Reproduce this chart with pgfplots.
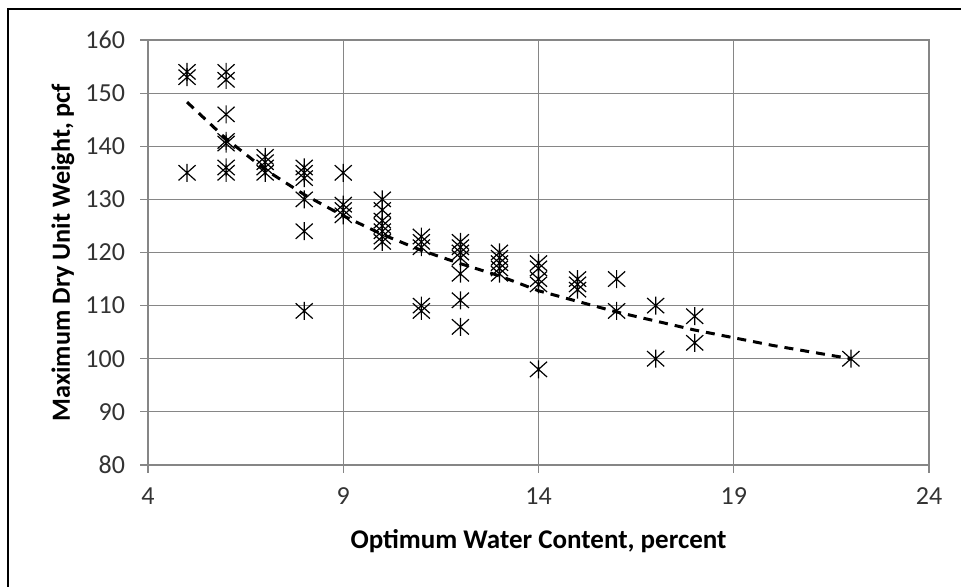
\documentclass[border=0pt]{standalone}
\usepackage{pgfplots}
\pgfplotsset{compat=1.18}
\usepackage{fontspec}
\setmainfont{Carlito}
\pgfdeclareplotmark{xstar}{%
  \pgfpathmoveto{\pgfqpoint{0pt}{\pgfplotmarksize}}%
  \pgfpathlineto{\pgfqpoint{0pt}{-\pgfplotmarksize}}%
  \pgfpathmoveto{\pgfqpoint{-0.95\pgfplotmarksize}{0.85\pgfplotmarksize}}%
  \pgfpathlineto{\pgfqpoint{0.95\pgfplotmarksize}{-0.85\pgfplotmarksize}}%
  \pgfpathmoveto{\pgfqpoint{-0.95\pgfplotmarksize}{-0.85\pgfplotmarksize}}%
  \pgfpathlineto{\pgfqpoint{0.95\pgfplotmarksize}{0.85\pgfplotmarksize}}%
  \pgfusepathqstroke}
\definecolor{gridgray}{RGB}{134,134,134}
\begin{document}
\begin{tikzpicture}
\useasboundingbox (0,0) rectangle (480.5pt,293.5pt);
\draw[black,line width=1.2pt] (4pt,0) -- (4pt,289pt) -- (480.5pt,289pt);
\begin{axis}[
  at={(74pt,61pt)}, anchor=south west,
  width=390.5pt, height=212.5pt, scale only axis,
  xmin=4, xmax=24, ymin=80, ymax=160,
  xtick={4,9,14,19,24}, ytick={80,90,...,160},
  grid=major, major grid style={gridgray, line width=0.6pt},
  axis line style={gridgray, line width=0.6pt},
  tick style={gridgray, line width=0.6pt},
  tick align=outside, major tick length=4pt,
  xtick pos=bottom, ytick pos=left,
  /pgf/number format/assume math mode=true,
  tick label style={font=\fontsize{13}{15}\selectfont, text=black!80},
  yticklabel style={xshift=-4pt},
  xticklabel style={yshift=-4pt},
  xlabel={\textbf{Optimum Water Content, percent}},
  ylabel={\textbf{Maximum Dry Unit Weight, pcf}},
  xlabel style={font=\fontsize{13.5}{15}\selectfont, at={(axis description cs:0.5,-0.1953)}, anchor=base},
  ylabel style={font=\fontsize{13.1}{15}\selectfont, at={(axis description cs:-0.0999,0.5)}, anchor=base},
]
\addplot[only marks, mark=xstar, mark size=4.5pt, mark options={line width=0.6pt, black}] coordinates {
(5,154) (5,153) (5,135)
(6,154) (6,152.5) (6,146) (6,141) (6,140.5) (6,136) (6,135)
(7,138) (7,137) (7,136) (7,135)
(8,136) (8,135) (8,134) (8,130) (8,124) (8,109)
(9,135) (9,129) (9,128) (9,127)
(10,130) (10,128) (10,126) (10,125) (10,124) (10,123) (10,122)
(11,123) (11,122) (11,121) (11,110) (11,109)
(12,122) (12,121) (12,120) (12,119) (12,116) (12,111) (12,106)
(13,120) (13,119) (13,118) (13,117) (13,116)
(14,118) (14,117) (14,115) (14,114) (14,98)
(15,115) (15,114) (15,113)
(16,115) (16,109)
(17,110) (17,100)
(18,108) (18,103)
(22,100)
};
\addplot[black, line width=1.5pt, dash pattern=on 4.5pt off 3.5pt, no marks] coordinates {
(5,148.3) (6,141.4) (7,135.6) (8,130.9) (9,126.9) (10,123.4) (11,120.4) (12,117.9)
(13,115.6) (14,112.8) (16,108.8) (18,105.4) (20,102.5) (22,100)
};
\end{axis}
\end{tikzpicture}
\end{document}
